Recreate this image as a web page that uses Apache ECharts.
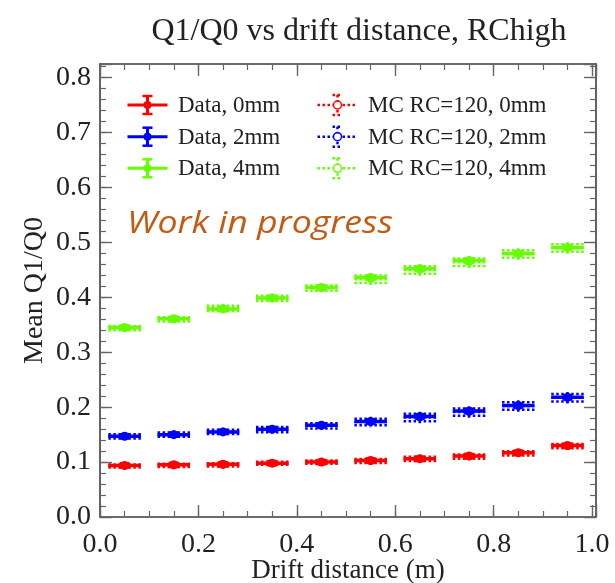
<!DOCTYPE html>
<html>
<head>
<meta charset="utf-8">
<script src="https://cdn.jsdelivr.net/npm/echarts@6/dist/echarts.min.js"></script>
<style>
  html, body { margin: 0; padding: 0; background: #ffffff; }
  #chart { width: 615px; height: 583px; }
</style>
</head>
<body>
<div id="chart"></div>
<script>
// Bin centres along the drift direction (m)
const distance = [0.05, 0.15, 0.25, 0.35, 0.45, 0.55, 0.65, 0.75, 0.85, 0.95];

// Measured mean Q1/Q0 and its uncertainty
const data0mm = [0.094, 0.095, 0.096, 0.098, 0.100, 0.103, 0.106, 0.111, 0.117, 0.130];
const data2mm = [0.147, 0.150, 0.155, 0.160, 0.167, 0.174, 0.183, 0.193, 0.203, 0.218];
const data4mm = [0.345, 0.361, 0.379, 0.399, 0.418, 0.436, 0.452, 0.467, 0.480, 0.491];
const dataErr = [0.002, 0.002, 0.002, 0.002, 0.002, 0.002, 0.002, 0.002, 0.002, 0.002];

// Simulation, RC = 120
const mc0mm = [0.093, 0.094, 0.095, 0.098, 0.100, 0.102, 0.106, 0.110, 0.116, 0.129];
const mc2mm = [0.147, 0.150, 0.155, 0.159, 0.166, 0.173, 0.181, 0.191, 0.202, 0.217];
const mc4mm = [0.344, 0.360, 0.380, 0.398, 0.417, 0.433, 0.450, 0.464, 0.479, 0.490];
const mc0Err = [0.001, 0.001, 0.001, 0.001, 0.001, 0.002, 0.002, 0.002, 0.002, 0.002];
const mc2Err = [0.002, 0.002, 0.002, 0.003, 0.003, 0.004, 0.005, 0.005, 0.005, 0.005];
const mc4Err = [0.002, 0.002, 0.003, 0.003, 0.003, 0.005, 0.005, 0.005, 0.005, 0.005];

const xTicks = [0.0, 0.2, 0.4, 0.6, 0.8, 1.0];
const yTicks = [0.0, 0.1, 0.2, 0.3, 0.4, 0.5, 0.6, 0.7, 0.8];

const RED = '#ff0000', BLUE = '#0000ff', GREEN = '#66ff00';
const SERIF = '"Liberation Serif", "DejaVu Serif", serif';
const X_HALF = 0.033;   // half width of the horizontal error bar

function rows(vals, errs) {
  return distance.map((d, i) => [d, vals[i], errs[i]]);
}

// Solid error bar with a filled marker
function renderData(color) {
  return function (params, api) {
    const x = api.value(0), y = api.value(1), e = api.value(2);
    const c = api.coord([x, y]);
    const l = api.coord([x - X_HALF, y]);
    const r = api.coord([x + X_HALF, y]);
    const t = api.coord([x, y + e]);
    const b = api.coord([x, y - e]);
    const st = { stroke: color, lineWidth: 3.5 };
    return {
      type: 'group',
      children: [
        { type: 'line', shape: { x1: l[0], y1: c[1], x2: r[0], y2: c[1] }, style: st },
        { type: 'line', shape: { x1: c[0], y1: t[1] - 1, x2: c[0], y2: b[1] + 1 }, style: st },
        { type: 'line', shape: { x1: c[0] - 5, y1: t[1] - 1, x2: c[0] + 5, y2: t[1] - 1 }, style: { stroke: color, lineWidth: 2.5 } },
        { type: 'line', shape: { x1: c[0] - 5, y1: b[1] + 1, x2: c[0] + 5, y2: b[1] + 1 }, style: { stroke: color, lineWidth: 2.5 } },
        { type: 'circle', shape: { cx: c[0], cy: c[1], r: 4.5 }, style: { fill: color } }
      ]
    };
  };
}

// Dotted error box for the simulation
function renderMC(color) {
  return function (params, api) {
    const x = api.value(0), y = api.value(1), e = api.value(2);
    const c = api.coord([x, y]);
    const l = api.coord([x - X_HALF, y]);
    const r = api.coord([x + X_HALF, y]);
    const t = api.coord([x, y + e]);
    const b = api.coord([x, y - e]);
    const st = { stroke: color, lineWidth: 2.5, lineDash: [2.5, 2.5] };
    return {
      type: 'group',
      children: [
        { type: 'line', shape: { x1: l[0], y1: c[1], x2: r[0], y2: c[1] }, style: st },
        { type: 'line', shape: { x1: l[0], y1: t[1] - 1, x2: r[0], y2: t[1] - 1 }, style: st },
        { type: 'line', shape: { x1: l[0], y1: b[1] + 1, x2: r[0], y2: b[1] + 1 }, style: st },
        { type: 'line', shape: { x1: c[0], y1: t[1] - 3, x2: c[0], y2: b[1] + 3 }, style: st },
        { type: 'circle', shape: { cx: c[0], cy: c[1], r: 3 }, style: { fill: '#ffffff', stroke: color, lineWidth: 1.5 } }
      ]
    };
  };
}

function near(v, list) {
  return list.some(t => Math.abs(t - v) < 1e-6);
}

const FRAME = '#3c3c3c';
const TICK = '#666666';

function majorAxis(pos, min, max, interval, ticks, showLabel) {
  return {
    type: 'value', position: pos, min: min, max: max, interval: interval,
    axisLine: { show: true, onZero: false, lineStyle: { color: FRAME, width: 1.6 } },
    axisTick: { show: true, inside: true, length: 12, lineStyle: { color: TICK, width: 1.4 } },
    minorTick: { show: false },
    splitLine: { show: false },
    axisLabel: {
      show: showLabel,
      fontFamily: SERIF, fontSize: 28, color: '#222222',
      margin: pos === 'left' ? 9 : 14,
      showMinLabel: true, showMaxLabel: true, hideOverlap: false,
      formatter: v => near(v, ticks) ? v.toFixed(1) : ''
    }
  };
}

function minorAxis(pos, min, max, interval) {
  return {
    type: 'value', position: pos, min: min, max: max, interval: interval,
    axisLine: { show: false, onZero: false },
    axisTick: { show: true, inside: true, length: 6, lineStyle: { color: TICK, width: 1.2 } },
    splitLine: { show: false },
    axisLabel: { show: false }
  };
}

const X_MIN = 0, X_MAX = 1.008, Y_MIN = 0, Y_MAX = 0.825;

const xBottom = majorAxis('bottom', X_MIN, X_MAX, 0.2, xTicks, true);
xBottom.name = 'Drift distance (m)';
xBottom.nameLocation = 'middle';
xBottom.nameGap = 40;
xBottom.nameMoveOverlap = false;
xBottom.nameTextStyle = { fontFamily: SERIF, fontSize: 27, color: '#222222' };

const yLeft = majorAxis('left', Y_MIN, Y_MAX, 0.1, yTicks, true);
yLeft.name = 'Mean Q1/Q0';
yLeft.nameLocation = 'middle';
yLeft.nameGap = 51;
yLeft.nameMoveOverlap = false;
yLeft.nameTextStyle = { fontFamily: SERIF, fontSize: 28, color: '#222222' };

const chart = echarts.init(document.getElementById('chart'), null, { renderer: 'canvas' });

// Legend drawn as graphic elements
const legendRows = [105, 136.7, 168.3];
const legendColors = [RED, BLUE, GREEN];
const legendData = ['Data, 0mm', 'Data, 2mm', 'Data, 4mm'];
const legendMC = ['MC RC=120, 0mm', 'MC RC=120, 2mm', 'MC RC=120, 4mm'];
const legendGraphics = [];
legendRows.forEach((y, i) => {
  const col = legendColors[i];
  const cx = 147.5, mx = 337.5;
  legendGraphics.push(
    { type: 'line', shape: { x1: cx - 20, y1: y, x2: cx + 20, y2: y }, style: { stroke: col, lineWidth: 3 } },
    { type: 'line', shape: { x1: cx, y1: y - 9, x2: cx, y2: y + 9 }, style: { stroke: col, lineWidth: 3 } },
    { type: 'line', shape: { x1: cx - 5, y1: y - 9, x2: cx + 5, y2: y - 9 }, style: { stroke: col, lineWidth: 2.5 } },
    { type: 'line', shape: { x1: cx - 5, y1: y + 9, x2: cx + 5, y2: y + 9 }, style: { stroke: col, lineWidth: 2.5 } },
    { type: 'circle', shape: { cx: cx, cy: y, r: 4 }, style: { fill: col } },
    { type: 'text', x: 178, y: y + 1, style: { text: legendData[i], font: '23px ' + SERIF, fill: '#222222', verticalAlign: 'middle' } },
    { type: 'line', shape: { x1: mx - 20, y1: y, x2: mx + 20, y2: y }, style: { stroke: col, lineWidth: 2.5, lineDash: [2.5, 2.5] } },
    { type: 'line', shape: { x1: mx, y1: y - 10, x2: mx, y2: y + 10 }, style: { stroke: col, lineWidth: 2.5, lineDash: [2.5, 2.5] } },
    { type: 'line', shape: { x1: mx - 5, y1: y - 10, x2: mx + 5, y2: y - 10 }, style: { stroke: col, lineWidth: 2.5, lineDash: [2.5, 2.5] } },
    { type: 'line', shape: { x1: mx - 5, y1: y + 10, x2: mx + 5, y2: y + 10 }, style: { stroke: col, lineWidth: 2.5, lineDash: [2.5, 2.5] } },
    { type: 'circle', shape: { cx: mx, cy: y, r: 4 }, style: { fill: '#ffffff', stroke: col, lineWidth: 1.5 } },
    { type: 'text', x: 368, y: y + 1, style: { text: legendMC[i], font: '23px ' + SERIF, fill: '#222222', verticalAlign: 'middle' } }
  );
});
legendGraphics.push({
  type: 'text', x: 127, y: 224, scaleX: 1.15,
  style: { text: 'Work in progress', font: 'italic 31px "Open Sans", Lato, sans-serif', fill: '#c55a11', verticalAlign: 'middle' }
});

const option = {
  backgroundColor: '#ffffff',
  animation: false,
  title: {
    text: 'Q1/Q0 vs drift distance, RChigh',
    left: 354, top: 11, textAlign: 'center',
    textStyle: { fontFamily: SERIF, fontSize: 32, fontWeight: 'normal', color: '#222222' }
  },
  grid: { left: 100, right: 19, top: 64, bottom: 66, outerBoundsMode: 'none', containLabel: false },
  xAxis: [
    xBottom,
    majorAxis('top', X_MIN, X_MAX, 0.2, xTicks, false),
    minorAxis('bottom', X_MIN, X_MAX, 0.05),
    minorAxis('top', X_MIN, X_MAX, 0.05)
  ],
  yAxis: [
    yLeft,
    majorAxis('right', Y_MIN, Y_MAX, 0.1, yTicks, false),
    minorAxis('left', Y_MIN, Y_MAX, 0.02),
    minorAxis('right', Y_MIN, Y_MAX, 0.02)
  ],
  graphic: legendGraphics,
  series: [
    { name: 'MC RC=120, 0mm', type: 'custom', renderItem: renderMC(RED), data: rows(mc0mm, mc0Err), encode: { x: 0, y: 1 } },
    { name: 'MC RC=120, 2mm', type: 'custom', renderItem: renderMC(BLUE), data: rows(mc2mm, mc2Err), encode: { x: 0, y: 1 } },
    { name: 'MC RC=120, 4mm', type: 'custom', renderItem: renderMC(GREEN), data: rows(mc4mm, mc4Err), encode: { x: 0, y: 1 } },
    { name: 'Data, 0mm', type: 'custom', renderItem: renderData(RED), data: rows(data0mm, dataErr), encode: { x: 0, y: 1 } },
    { name: 'Data, 2mm', type: 'custom', renderItem: renderData(BLUE), data: rows(data2mm, dataErr), encode: { x: 0, y: 1 } },
    { name: 'Data, 4mm', type: 'custom', renderItem: renderData(GREEN), data: rows(data4mm, dataErr), encode: { x: 0, y: 1 } }
  ]
};

chart.setOption(option);
</script>
</body>
</html>
